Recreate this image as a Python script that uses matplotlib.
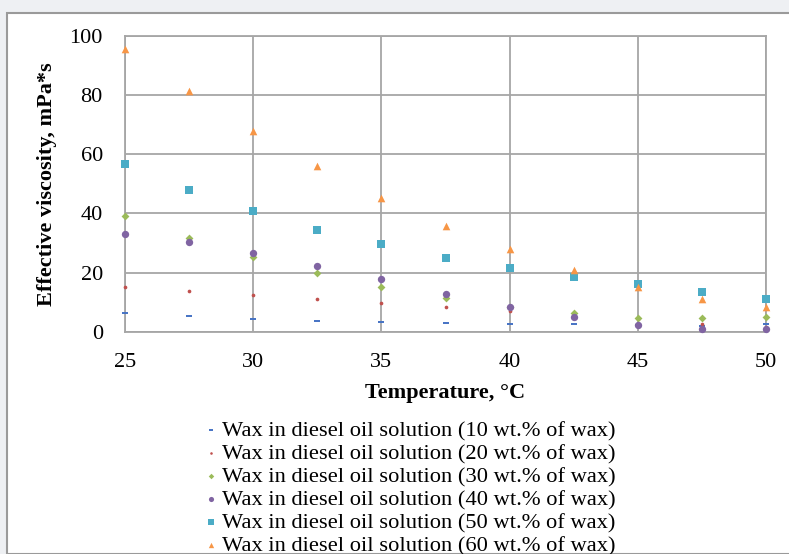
import matplotlib.pyplot as plt
from matplotlib.patches import Rectangle

# Temperatures, °C
temperature = [25, 27.5, 30, 32.5, 35, 37.5, 40, 42.5, 45, 47.5, 50]

# Effective viscosity, mPa*s
wax_10 = [6.3, 5.3, 4.3, 3.6, 3.2, 2.8, 2.5, 2.5, 2.2, 2.0, 2.5]
wax_20 = [15.2, 13.9, 12.4, 11.1, 9.6, 8.2, 7.0, 5.6, 4.2, 2.5, 1.5]
wax_30 = [39.0, 31.7, 25.4, 19.7, 15.2, 11.4, 8.2, 6.2, 4.7, 4.5, 4.9]
wax_40 = [33.0, 30.2, 26.7, 22.2, 17.7, 12.8, 8.5, 4.9, 2.3, 0.9, 1.0]
wax_50 = [56.8, 48.0, 40.8, 34.5, 29.5, 25.0, 21.5, 18.4, 16.0, 13.5, 11.2]
wax_60 = [95.5, 81.3, 67.9, 56.0, 45.2, 35.7, 27.9, 20.9, 15.2, 11.0, 8.5]

labels = ['Wax in diesel oil solution (10 wt.% of wax)',
          'Wax in diesel oil solution (20 wt.% of wax)',
          'Wax in diesel oil solution (30 wt.% of wax)',
          'Wax in diesel oil solution (40 wt.% of wax)',
          'Wax in diesel oil solution (50 wt.% of wax)',
          'Wax in diesel oil solution (60 wt.% of wax)']

plt.rcParams['font.family'] = ['Liberation Serif', 'DejaVu Serif']

fig = plt.figure(figsize=(7.89, 5.54), dpi=100)
fig.patch.set_facecolor('#eef0f3')

# white panel with a grey frame, as in the screenshot
W, H = 789, 554
panel = Rectangle((7 / W, 0), 1.0, 1 - 13 / H, transform=fig.transFigure,
                  facecolor='white', edgecolor='#9a9a9a', linewidth=1.5,
                  zorder=-1)
fig.patches.append(panel)

ax = fig.add_axes([125 / W, 1 - 331.7 / H, (766 - 125) / W, (331.7 - 36) / H])
ax.set_facecolor('white')

series = [
    (wax_10, '#4472C4', '_', 14),
    (wax_20, '#C0504D', 'o', 7),
    (wax_30, '#9BBB59', 'D', 16),
    (wax_40, '#8064A2', 'o', 28),
    (wax_50, '#4BACC6', 's', 28),
    (wax_60, '#F79646', '^', 30),
]
for (vals, color, marker, size), label in zip(series, labels):
    ax.scatter(temperature, vals, color=color, marker=marker, s=size,
               label=label, linewidths=1.4 if marker == '_' else 0,
               zorder=3, clip_on=False)

ax.set_xlim(25, 50)
ax.set_ylim(0, 100)
ax.set_xticks([25, 30, 35, 40, 45, 50])
ax.set_yticks([0, 20, 40, 60, 80, 100])
ax.tick_params(length=0, labelsize=16)
ax.tick_params(axis='x', pad=15)
ax.tick_params(axis='y', pad=16)
ax.grid(True, color='#a6a6a6', linewidth=1.3)
ax.set_axisbelow(True)
for side in ['left', 'bottom', 'top', 'right']:
    ax.spines[side].set_color('#a6a6a6')
    ax.spines[side].set_linewidth(1.3)

ax.set_xlabel('Temperature, °C', fontsize=16, fontweight='bold', labelpad=8)
ax.set_ylabel('Effective viscosity, mPa*s', fontsize=16, fontweight='bold',
              labelpad=9)

fig.legend(loc='upper center', bbox_to_anchor=(409 / W, 1 - 409 / H),
           frameon=False, fontsize=16.2, handletextpad=0.1, labelspacing=0.1,
           handlelength=0.8, borderpad=0, markerscale=0.7)

plt.savefig('out.png', dpi=100, facecolor=fig.get_facecolor())
